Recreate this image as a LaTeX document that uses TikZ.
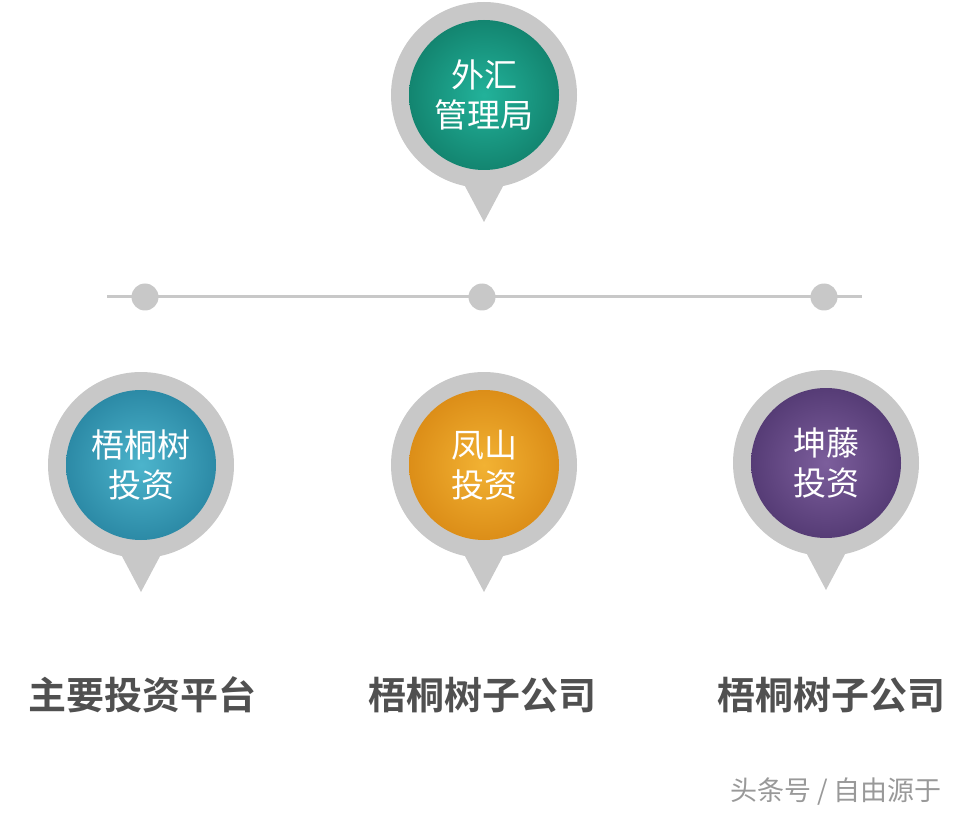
\documentclass[tikz,border=0pt]{standalone}
\usepackage{fontspec}
\setmainfont{Noto Sans CJK SC}
\newfontfamily\cjkb{Noto Sans CJK SC Bold}
\begin{document}
\begin{tikzpicture}[x=1pt,y=-1pt]
\definecolor{pingray}{HTML}{C8C8C8}
\definecolor{labgray}{HTML}{505050}
\definecolor{tealA}{HTML}{22B29A}\definecolor{tealB}{HTML}{138570}
\definecolor{blueA}{HTML}{4CB4CC}\definecolor{blueB}{HTML}{2C8AA6}
\definecolor{orA}{HTML}{F2B233}\definecolor{orB}{HTML}{DC8E18}
\definecolor{puA}{HTML}{7C5E9C}\definecolor{puB}{HTML}{563C76}
\tikzset{
 pintxt/.style={text=white,font=\fontsize{33}{40}\selectfont,align=center},
 labtxt/.style={text=labgray,font=\cjkb\fontsize{38}{40}\selectfont},
 dotc/.style={fill=pingray,draw=none}
}
\path[use as bounding box] (0,0) rectangle (977,818);
\newcommand\pinshape[6]{% x y tip inner-colour outer-colour name
 \fill[pingray] (#1-26,#2+78) -- (#1,#3) -- (#1+26,#2+78) -- cycle;
 \fill[pingray] (#1,#2) circle (93);
 \shade[inner color=#4,outer color=#5] (#1,#2) circle (75);
 \coordinate (#6) at (#1,#2);
}
\pinshape{484}{95}{222}{tealA}{tealB}{top}
\pinshape{141}{465}{592}{blueA}{blueB}{p1}
\pinshape{484}{465}{592}{orA}{orB}{p2}
\pinshape{826}{463}{590}{puA}{puB}{p3}
\node[pintxt] (t0) at (top) {外汇\\管理局};
\node[pintxt] (t1) at (p1) {梧桐树\\投资};
\node[pintxt] (t2) at (p2) {凤山\\投资};
\node[pintxt] (t3) at (p3) {坤藤\\投资};
\coordinate (la) at (107,297);
\coordinate (lb) at (862,297);
\draw[pingray,line width=3pt] (la) -- (lb);
\node[dotc,circle,minimum size=27pt,inner sep=0] (d1) at (145,297) {};
\node[dotc,circle,minimum size=27pt,inner sep=0] (d2) at (482,297) {};
\node[dotc,circle,minimum size=27pt,inner sep=0] (d3) at (824,297) {};
\node[labtxt] (l1) at (142,695) {主要投资平台};
\node[labtxt] (l2) at (482,695) {梧桐树子公司};
\node[labtxt] (l3) at (831,695) {梧桐树子公司};
\node[text=gray!80,font=\fontsize{27}{30}\selectfont] (w) at (836,792) {头条号 / 自由源于};
\end{tikzpicture}
\end{document}
